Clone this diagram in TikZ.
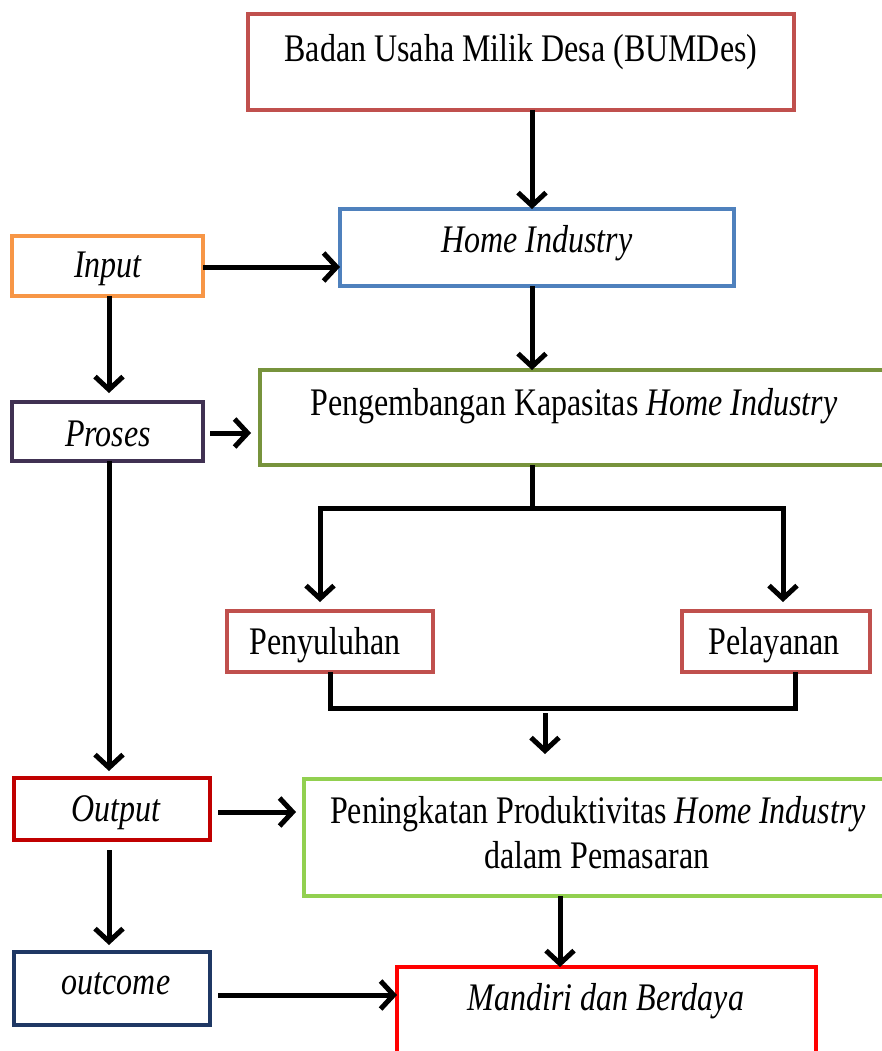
\documentclass[tikz,border=0pt]{standalone}
\usepackage{fontspec}
\setmainfont{Liberation Serif}
\usepackage{graphicx}
\usetikzlibrary{arrows.meta}
\definecolor{cBum}{HTML}{C0504D}
\definecolor{cHome}{HTML}{4F81BD}
\definecolor{cInput}{HTML}{F79646}
\definecolor{cProses}{HTML}{403152}
\definecolor{cPeng}{HTML}{77933C}
\definecolor{cOut}{HTML}{C00000}
\definecolor{cPen}{HTML}{92D050}
\definecolor{cOutc}{HTML}{1F3864}
\definecolor{cMan}{HTML}{FF0000}
\newcommand{\tx}[1]{\scalebox{1}[1.22]{#1}}
\begin{document}
\begin{tikzpicture}[x=1pt,y=-1pt,
  boxnode/.style={draw, line width=4.5pt, inner sep=0pt, outer sep=0pt, fill=white},
  lbl/.style={inner sep=0pt, font=\fontsize{32}{38}\selectfont},
  conn/.style={draw=black, line width=5pt},
  arr/.style={conn, -{Straight Barb[length=13pt,width=28pt]}}]
\useasboundingbox (0,0) rectangle (882,1051);
\fill[white] (0,0) rectangle (882,1051);
% boxes
\node[boxnode, draw=cBum, minimum width=546pt, minimum height=96pt] (bum) at (521,62) {};
\node[boxnode, draw=cHome, minimum width=394pt, minimum height=77pt] (home) at (537,247.5) {};
\node[boxnode, draw=cInput, minimum width=191pt, minimum height=60pt] (input) at (107.5,266) {};
\node[boxnode, draw=cProses, minimum width=191pt, minimum height=59pt] (proses) at (107.5,431.5) {};
\node[boxnode, draw=cPeng, minimum width=640pt, minimum height=95pt] (peng) at (580,417.5) {};
\node[boxnode, draw=cBum, minimum width=206pt, minimum height=61pt] (peny) at (330,641.5) {};
\node[boxnode, draw=cBum, minimum width=188pt, minimum height=61pt] (pel) at (776,641.5) {};
\node[boxnode, draw=cOut, minimum width=196pt, minimum height=62pt] (output) at (112,809) {};
\node[boxnode, draw=cPen, minimum width=596pt, minimum height=117pt] (pen) at (602,837.5) {};
\node[boxnode, draw=cOutc, minimum width=196pt, minimum height=73pt] (outc) at (112,988.5) {};
\node[boxnode, draw=cMan, minimum width=419pt, minimum height=103pt] (man) at (606.5,1018.5) {};
% texts
\node[lbl] (tbum) at (521,52) {\tx{Badan Usaha Milik Desa (BUMDes)}};
\node[lbl] (thome) at (537,243) {\tx{\itshape Home Industry}};
\node[lbl] (tinput) at (108,269) {\tx{\itshape Input}};
\node[lbl] (tproses) at (108,434) {\tx{\itshape Proses}};
\node[lbl] (tpeng) at (574,406) {\tx{Pengembangan Kapasitas \itshape Home Industry}};
\node[lbl] (tpeny) at (325,645) {\tx{Penyuluhan}};
\node[lbl] (tpel) at (774,645) {\tx{Pelayanan}};
\node[lbl] (toutput) at (116,813) {\tx{\itshape Output}};
\node[lbl] (tpen1) at (598,814) {\tx{Peningkatan Produktivitas \itshape Home Industry}};
\node[lbl] (tpen2) at (597,855) {\tx{dalam Pemasaran}};
\node[lbl] (toutc) at (116,984) {\tx{\itshape outcome}};
\node[lbl] (tman) at (606,1001) {\tx{\itshape Mandiri dan Berdaya}};
% connectors
\draw[arr] ([xshift=11pt]bum.south) -- ([xshift=-5pt]home.north);
\draw[arr] ([yshift=-1pt]input.east) -- ([yshift=-1pt]input.east -| home.west);
\draw[arr] ([xshift=-5pt]home.south) -- ([xshift=-5pt]home.south |- peng.north);
\draw[arr, shorten >=9pt] ([xshift=1.5pt]input.south) -- ([xshift=1.5pt]proses.north);
\draw[arr, shorten <=7pt, shorten >=9pt] ([yshift=-1.5pt]proses.east) -- ([yshift=-1.5pt]proses.east -| peng.west);
\draw[conn] ([xshift=-48pt]peng.south) -- ++(0,43) coordinate (br);
\draw[arr, shorten >=9pt] ([xshift=2.5pt]br) -| ([xshift=-10pt]peny.north);
\draw[arr, shorten >=9pt] ([xshift=-2.5pt]br) -| ([xshift=7pt]pel.north);
\draw[conn] (peny.south) -- ++(0,36) -| ([xshift=19pt]pel.south);
\coordinate (j1) at (545,713);
\coordinate (j2) at (545,754);
\draw[arr] (j1) -- (j2);
\draw[arr, shorten >=7pt] ([xshift=1.5pt]proses.south) -- ([xshift=1.5pt]proses.south |- output.north);
\draw[arr, shorten <=8pt, shorten >=8pt] ([yshift=-3pt]output.east) -- ([yshift=-3pt]output.east -| pen.west);
\draw[arr, shorten <=10pt, shorten >=7pt] ([xshift=-3pt]output.south) -- ([xshift=-3pt]outc.north);
\draw[arr] ([xshift=-42pt]pen.south) -- ([xshift=-42pt]pen.south |- man.north);
\draw[arr, shorten <=8pt] ([yshift=-6.5pt]outc.east) -- ([yshift=-6.5pt]outc.east -| man.west);
\end{tikzpicture}
\end{document}
